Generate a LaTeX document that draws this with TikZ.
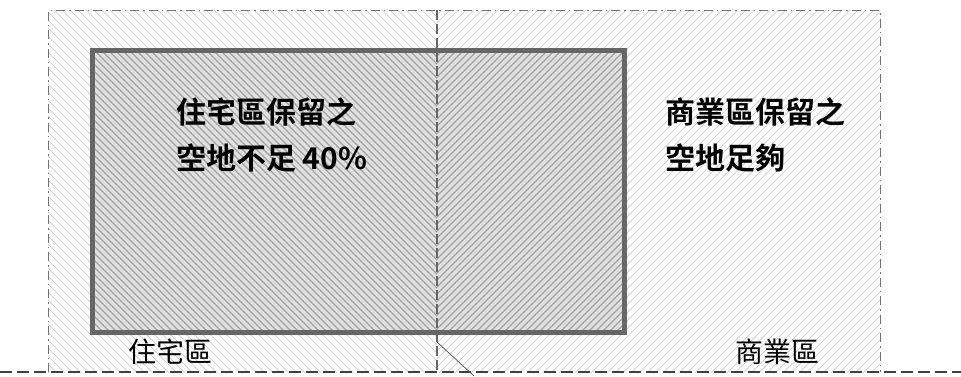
\documentclass[tikz,border=0pt]{standalone}
\usepackage{fontspec}
\newfontfamily\cjk{Noto Sans CJK TC}
\newfontfamily\cjkb{Noto Sans CJK TC Bold}
\begin{document}
\begin{tikzpicture}[x=1pt,y=-1pt,
  hatchlight/.style={draw=black!18,line width=0.9pt},
  hatchdark/.style={draw=black!36,line width=1.2pt},
  zonebox/.style={draw=black!55,line width=1pt,dash pattern=on 9pt off 4pt on 1.5pt off 4pt},
  divider/.style={draw=black!60,line width=1.3pt,dash pattern=on 10pt off 4pt},
  ground/.style={draw=black!75,line width=2pt,dash pattern=on 12pt off 5pt},
  lotbox/.style={draw=black!60,line width=5pt},
  biglabel/.style={anchor=west,font=\cjkb\fontsize{30}{40}\selectfont,align=left,inner sep=0pt},
  zonelabel/.style={anchor=center,font=\cjk\fontsize{28}{30}\selectfont,inner sep=0pt}]
\useasboundingbox (0,0) rectangle (961,376);
\fill[white] (0,0) rectangle (961,376);
% left zone hatching
\begin{scope}
  \clip (48,10) rectangle (437,372);
  \foreach \s in {-420,-412,...,460} {\draw[hatchlight] (\s,0) -- (\s+400,400);}
\end{scope}
% right zone hatching
\begin{scope}
  \clip (437,10) rectangle (880,372);
  \foreach \s in {420,428,...,1300} {\draw[hatchlight] (\s,0) -- (\s-400,400);}
\end{scope}
% lot interior
\fill[black!12] (92,50) rectangle (624,332);
\begin{scope}
  \clip (92,50) rectangle (437,332);
  \foreach \s in {-320,-313,...,460} {\draw[hatchdark] (\s,0) -- (\s+400,400);}
\end{scope}
\begin{scope}
  \clip (437,50) rectangle (624,332);
  \foreach \s in {430,437,...,1050} {\draw[hatchdark] (\s,0) -- (\s-400,400);}
\end{scope}
% zone outline and divider
\coordinate (zTL) at (48,10);
\coordinate (zTR) at (880,10);
\coordinate (zBL) at (48,372);
\coordinate (zBR) at (880,372);
\draw[zonebox] (zBL) -- (zTL) -- (zTR) -- (zBR);
\coordinate (dT) at (437,10);
\coordinate (dB) at (437,372);
\draw[divider] (dT) -- (dB);
% lot
\draw[lotbox] (92,50) rectangle (624,332);
% ground line
\coordinate (gL) at (0,372);
\coordinate (gR) at (961,372);
\draw[ground] (gL) -- (gR);
% stray diagonal stroke
\coordinate (sA) at (437,342);
\coordinate (sB) at (474,376);
\draw[black!70,line width=0.7pt] (sA) -- (sB);
% texts
\node[biglabel] (res1) at (176,112) {住宅區保留之};
\node[biglabel] (res2) at (176,158) {空地不足 40\%};
\node[biglabel] (com1) at (665,112) {商業區保留之};
\node[biglabel] (com2) at (665,158) {空地足夠};
\node[zonelabel] (resz) at (170,352) {住宅區};
\node[zonelabel] (comz) at (777,352) {商業區};
\end{tikzpicture}
\end{document}
